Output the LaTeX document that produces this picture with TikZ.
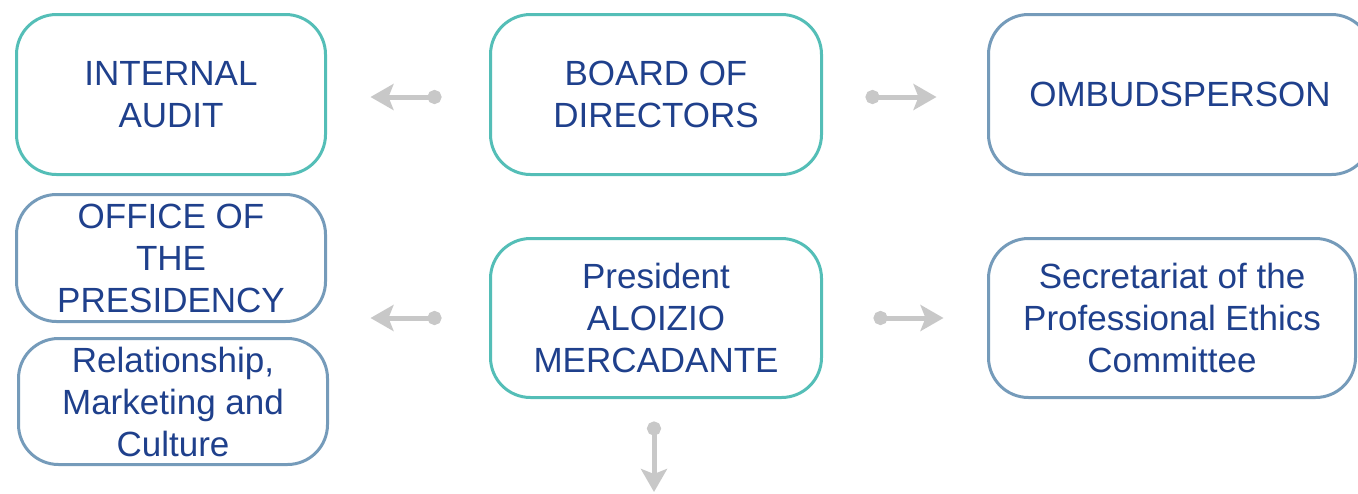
\documentclass[tikz,border=0pt]{standalone}
\usepackage{fontspec}
\setmainfont{Liberation Sans}
\usepackage{tikz}
\usetikzlibrary{arrows.meta}
\usetikzlibrary{positioning}
\definecolor{unit text}{RGB}{31,64,140}
\definecolor{teal line}{RGB}{84,190,183}
\definecolor{slate line}{RGB}{117,155,186}
\definecolor{link gray}{RGB}{200,200,200}
\tikzset{
unit/.style = { rectangle, fill = white, line width = 1.5pt, rounded corners = 20pt, text = unit text, align = center, inner sep = 2pt, font = \fontsize{17.5}{21}\selectfont },
teal unit/.style = { unit, draw = teal line },
slate unit/.style = { unit, draw = slate line },
link/.style = { draw = link gray, line width = 2.5pt, {Circle[length = 7pt]}-{Stealth[length = 11.5pt, width = 13pt, inset = 2.5pt]} },
}

\begin{document}
\begin{tikzpicture}[x = 0.5pt, y = -0.5pt]
      \useasboundingbox (0, 0) rectangle (1358, 493);
      \clip (0, 0) rectangle (1358, 493);
      % top row
      \node[teal unit, minimum width = 154.5pt, minimum height = 80pt] (audit) at (171, 94.5) {INTERNAL\\AUDIT};
      \node[teal unit, minimum width = 165.5pt, minimum height = 80pt] (board) at (656, 94.5) {BOARD OF\\DIRECTORS};
      \node[slate unit, minimum width = 191.5pt, minimum height = 80pt] (ombud) at (1180, 94.5) {OMBUDSPERSON};
      % second row
      \node[slate unit, minimum width = 154.5pt, minimum height = 63.5pt] (office) at (171, 258) {OFFICE OF\\THE\\PRESIDENCY};
      \node[slate unit, minimum width = 154.5pt, minimum height = 63pt] (relation) at (173, 401.5) {Relationship,\\Marketing and\\Culture};
      \node[teal unit, minimum width = 165.5pt, minimum height = 79.5pt] (pres) at (656, 318) {President\\ALOIZIO\\MERCADANTE};
      \node[slate unit, minimum width = 183.5pt, minimum height = 79.5pt] (ethics) at (1172, 318) {Secretariat of the\\Professional Ethics\\Committee};
      \coordinate (pres left) at (pres.west -| office.east);
      \coordinate (below) at (654, 492);
      % links
      \draw[link, shorten <= 23.75pt, shorten >= 21.75pt] ([yshift = -1.25pt]board.west) -- ([yshift = -1.25pt]audit.east);
      \draw[link, shorten <= 21.25pt, shorten >= 25.25pt] ([yshift = -1.25pt]board.east) -- ([yshift = -1.25pt]ombud.west);
      \draw[link, shorten <= 23.75pt, shorten >= 21.75pt] (pres.west) -- (pres left);
      \draw[link, shorten <= 25.25pt, shorten >= 21.75pt] (pres.east) -- (ethics.west);
      \draw[link, shorten <= 11.25pt] (pres.south -| below) -- (below);
\end{tikzpicture}
\end{document}
